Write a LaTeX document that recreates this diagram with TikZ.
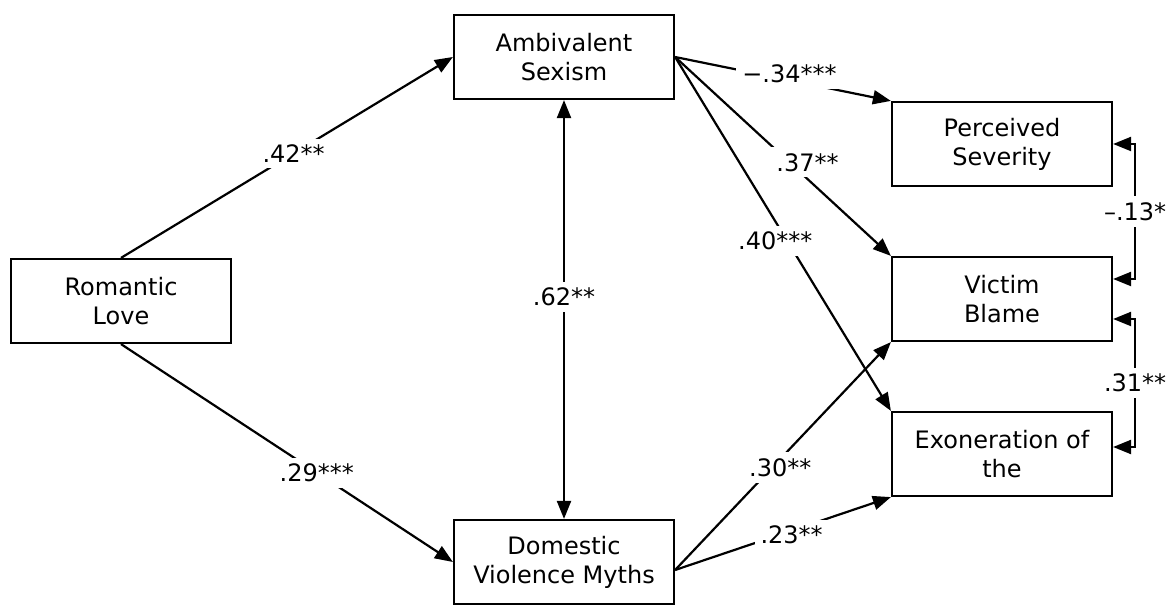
\documentclass[tikz,border=0pt]{standalone}
\usepackage{fontspec}
\setmainfont{DejaVu Sans}
\usetikzlibrary{arrows.meta}

\begin{document}
\begin{tikzpicture}[
    x=0.5pt, y=-0.5pt,
    box/.style={rectangle, draw=black, line width=1.1pt, fill=white,
        minimum width=110pt, minimum height=42pt, inner sep=2pt,
        align=center, font=\fontsize{12}{14.5}\selectfont},
    effect/.style={line width=1.1pt, -{Triangle[length=9pt,width=7pt]}},
    both/.style={line width=1.1pt,
        {Triangle[length=9pt,width=7pt]}-{Triangle[length=9pt,width=7pt]}},
    coef/.style={fill=white, inner sep=3pt, font=\fontsize{12}{14}\selectfont}
]
    \useasboundingbox (0,0) rectangle (1172,608);
    \node[box] (love) at (121,301) {Romantic\\Love};
    \node[box] (sexism) at (564,57) {Ambivalent\\Sexism};
    \node[box] (myths) at (564,562) {Domestic\\Violence Myths};
    \node[box] (severity) at (1002,144) {Perceived\\Severity};
    \node[box] (blame) at (1002,299) {Victim\\Blame};
    \node[box] (exon) at (1002,454) {Exoneration of\\the};
    \draw[effect] (love.north) -- node[coef, pos=0.52] (c42) {.42**} (sexism.west);
    \draw[effect] (love.south) -- node[coef, pos=0.59] (c29) {.29***} (myths.west);
    \draw[both] (sexism.south) -- node[coef, pos=0.47] (c62) {.62**} (myths.north);
    \draw[effect] (sexism.east) -- node[coef, pos=0.53, yshift=3pt] (c34) {−.34***} (severity.north west);
    \draw[effect] (sexism.east) -- node[coef, pos=0.52, xshift=-6pt] (c40) {.40***} (exon.north west);
    \draw[effect] (sexism.east) -- node[coef, pos=0.53, xshift=9pt] (c37) {.37**} (blame.north west);
    \draw[effect] ([yshift=-4pt]myths.east) -- node[coef, pos=0.45, xshift=4pt] (c30) {.30**} (blame.south west);
    \draw[effect] ([yshift=-4pt]myths.east) -- node[coef, pos=0.54, yshift=-2pt] (c23) {.23**} (exon.south west);
    \draw[both] (severity.east) -- ++(11pt,0) |- node[coef, pos=0.25] (c13) {–.13*} ([yshift=10pt]blame.east);
    \draw[both] ([yshift=-10pt]blame.east) -- ++(11pt,0) |- node[coef, pos=0.25] (c31) {.31**} ([yshift=3.5pt]exon.east);
\end{tikzpicture}
\end{document}
